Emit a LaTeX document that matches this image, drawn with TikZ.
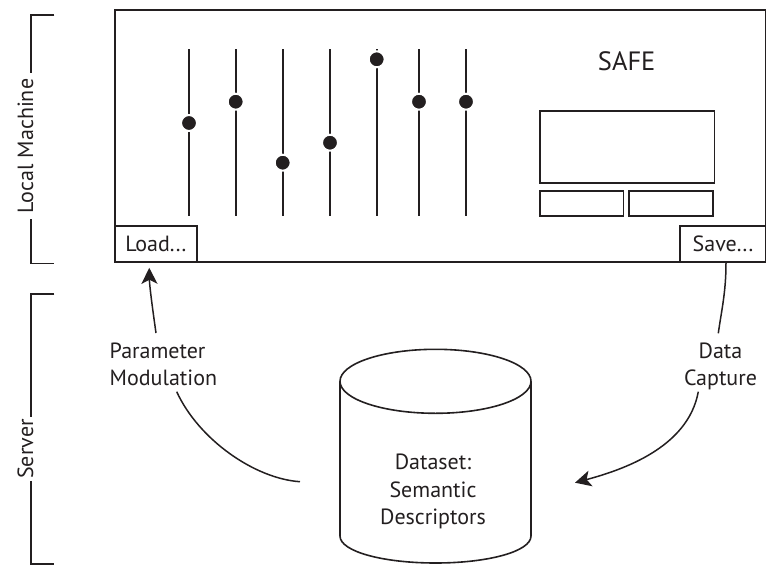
\documentclass[tikz,border=0pt]{standalone}
\usepackage{fontspec}
\setmainfont{PT Sans}
\usetikzlibrary{arrows.meta}
\definecolor{ink}{HTML}{231F20}
\begin{document}
\begin{tikzpicture}[x=1pt,y=-1pt,
  every node/.style={font=\fontsize{22}{27.5}\selectfont, text=ink, inner sep=0pt},
  frame/.style={draw=ink, line width=1.6pt},
  boxnode/.style={frame, fill=white, rectangle},
  slider/.style={draw=ink, line width=2pt},
  knob/.style={circle, fill=ink, draw=white, line width=2pt, minimum size=16pt, inner sep=0pt},
  conn/.style={draw=ink, line width=1.5pt},
  arr/.style={conn, -{Stealth[length=16pt,width=16pt,inset=4pt]}},
  side/.style={rotate=90},
]
\useasboundingbox (0,0) rectangle (766,565);

% main window
\node[frame, rectangle, minimum width=651pt, minimum height=252pt] (ui) at (440.5,136) {};

% sliders
\foreach \i/\x/\y in {1/189/123, 2/235.7/101.7, 3/282.7/162.7, 4/330/142.7, 5/376.7/59.3, 6/419/101.7, 7/466/101.7}{
  \draw[slider] (\x,49) -- (\x,215.7);
  \node[knob] (k\i) at (\x,\y) {};
}

% title and display
\node[font=\fontsize{26.5}{30}\selectfont] (safe) at (626.7,61.7) {SAFE};
\node[frame, rectangle, minimum width=174.3pt, minimum height=71.7pt] (disp) at (627.15,146.85) {};
\node[frame, rectangle, minimum width=83.3pt, minimum height=25.3pt] (btnA) at (581.65,203.35) {};
\node[frame, rectangle, minimum width=84pt, minimum height=25.3pt] (btnB) at (670.7,203.35) {};

% load / save
\node[boxnode, minimum width=81.7pt, minimum height=36.3pt] (load) at (155.85,243.85) {Load.\kern1.2pt.\kern1.2pt.};
\node[boxnode, minimum width=86pt, minimum height=36.3pt] (save) at (723,243.85) {Save.\kern1.2pt.\kern1.2pt.};

% side brackets
\node[side, inner xsep=6pt] (lm) at (25.5,146) {Local Machine};
\coordinate (lmtop) at (30.7,15);
\coordinate (lmbot) at (30.7,263.3);
\draw[frame] (54.3,15) -- (lmtop) -- (lmtop |- lm.east);
\draw[frame] (lmbot |- lm.west) -- (lmbot) -- (54.3,263.3);

\node[side, inner xsep=2pt] (srv) at (25.3,449) {Server};
\coordinate (svtop) at (30.7,294);
\coordinate (svbot) at (30.7,564);
\draw[frame] (54.3,294) -- (svtop) -- (svtop |- srv.east);
\draw[frame] (svbot |- srv.west) -- (svbot) -- (54.3,564);

% cylinder
\draw[frame] (435.5,381.3) ellipse [x radius=95.5, y radius=32];
\draw[frame] (340,381.3) -- (340,536)
  .. controls (340,551.46) and (382.76,563) .. (435.5,563)
  .. controls (488.24,563) and (531,551.46) .. (531,536) -- (531,381.3);
\node[align=center, anchor=north] (ds) at (433,454) {Dataset:\\Semantic\\Descriptors};

% labels
\node[align=left, anchor=north west] (pm) at (109.5,342.6) {Parameter\\Modulation};
\node[align=center, anchor=north] (dc) at (720.5,342.3) {Data\\Capture};

\coordinate (dsl) at (300,481.7);
\coordinate (dsr) at (575,482.7);

% connectors
\draw[arr] ([shift={(46.5pt,9.6pt)}]pm.north west) .. controls +(-4,-28) and +(0.2,17) .. ([xshift=-6.6pt,yshift=-5pt]load.south);
\draw[conn] ([shift={(67.2pt,-49.1pt)}]pm.north west) .. controls +(22,48) and +(-45,-3) .. (dsl);
\draw[conn] ([xshift=3pt]save.south) .. controls +(0,30) and +(3,-22) .. ([shift={(-2.2pt,9pt)}]dc.north);
\draw[arr] ([shift={(-22.2pt,-49.4pt)}]dc.north) .. controls +(-10.3,56.3) and +(47,-12.7) .. (dsr);
\end{tikzpicture}
\end{document}
